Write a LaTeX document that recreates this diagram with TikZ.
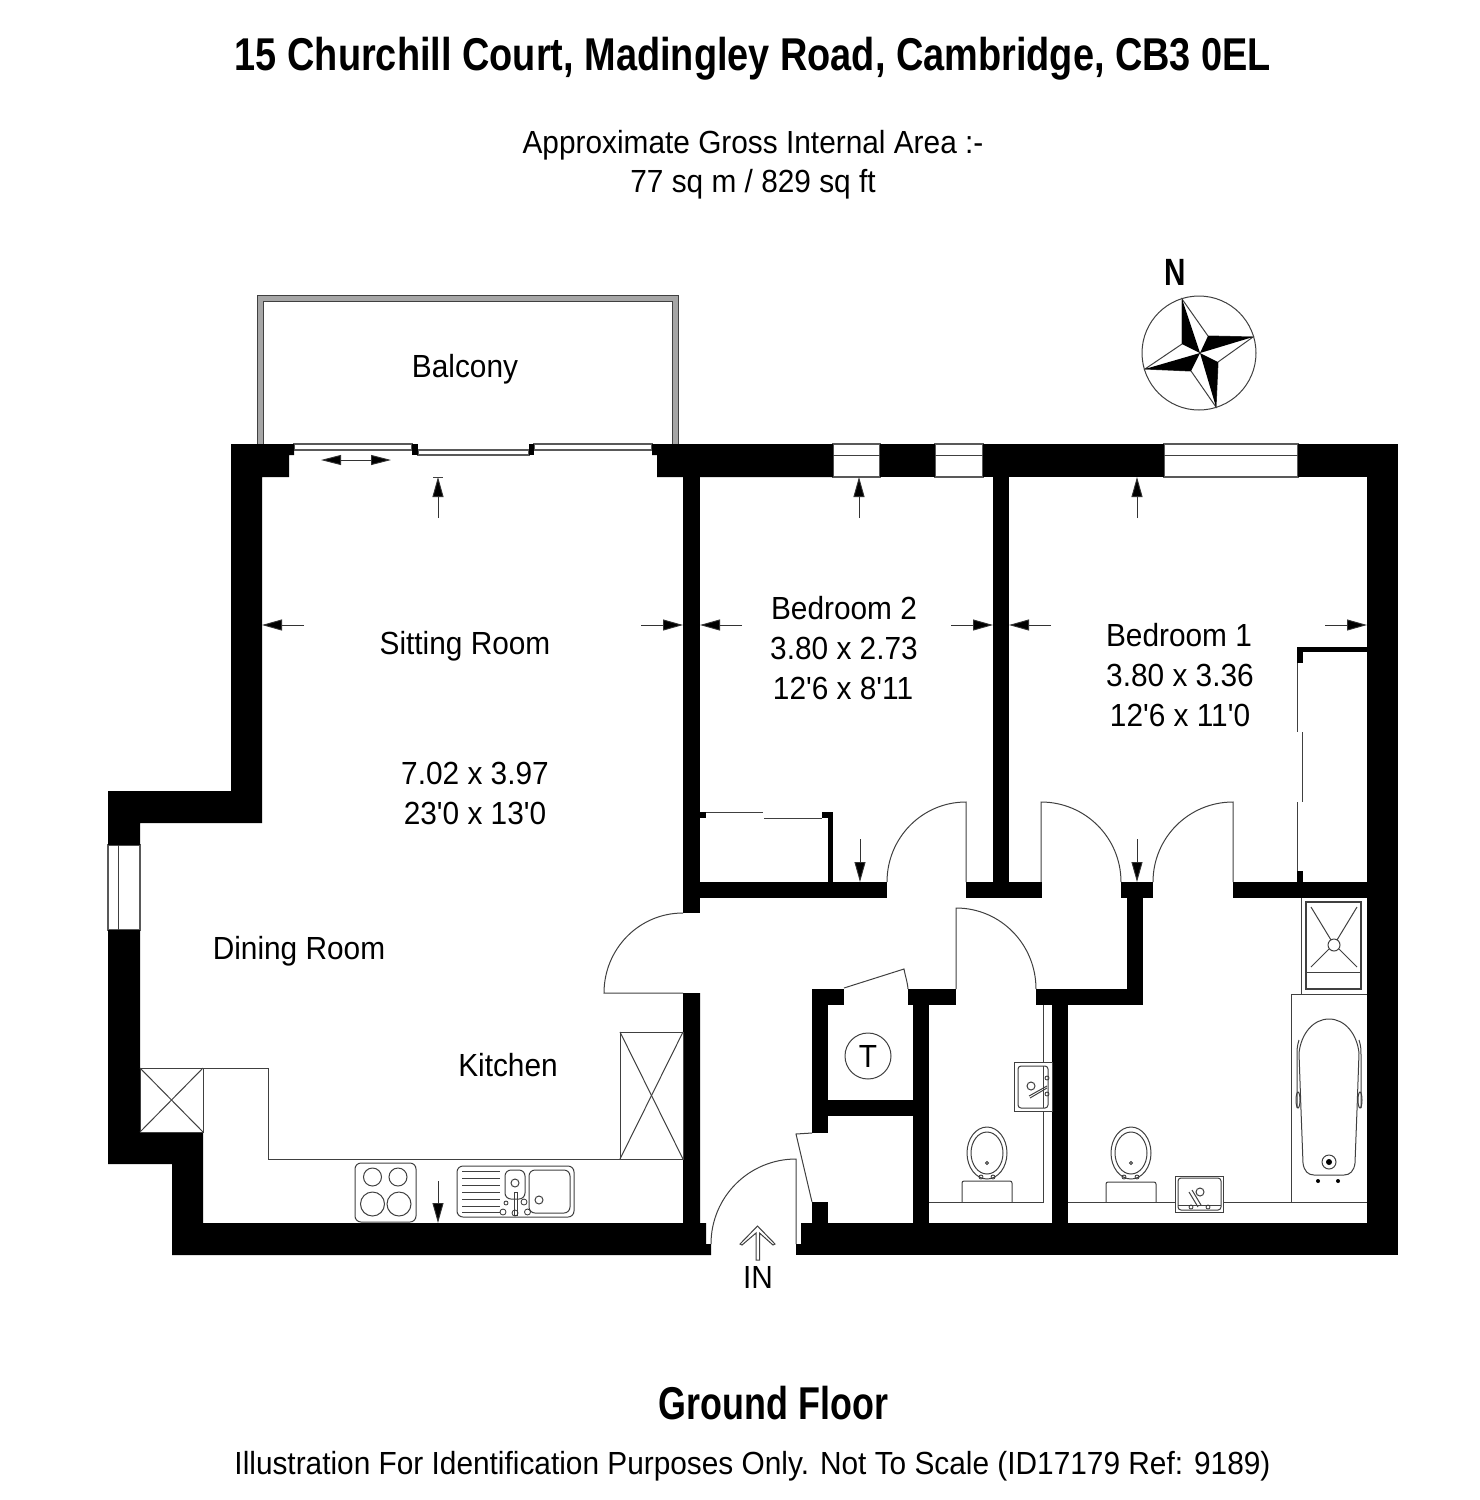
\documentclass[tikz,border=0pt]{standalone}
\usepackage{fontspec}
\setmainfont{Liberation Sans}
\newfontfamily\planfont[FakeStretch=0.932]{Liberation Sans}
\newfontfamily\titlefont[FakeStretch=0.824]{Liberation Sans Bold}
\newfontfamily\floorfont[FakeStretch=0.78]{Liberation Sans Bold}
\usetikzlibrary{arrows.meta}

\begin{document}
\begin{tikzpicture}[x=0.5pt, y=-0.5pt,
    wall/.style={fill=black, draw=none},
    fixture/.style={draw=black!75, line width=0.5pt},
    fixturefine/.style={draw=black!80, line width=0.4pt},
    pane/.style={draw=black!65, fill=white, line width=0.6pt},
    dimarrow/.style={draw=black!80, line width=0.45pt, -{Triangle[length=10pt, width=5.5pt, fill=black]}},
    slidearrow/.style={draw=black!80, line width=0.45pt, {Triangle[length=10pt, width=5pt, fill=black]}-{Triangle[length=10pt, width=5pt, fill=black]}},
    planlabel/.style={font=\planfont\fontsize{16}{19}\selectfont, anchor=base, inner sep=0pt}]

    \useasboundingbox (0,0) rectangle (1479,1500);

    % Balcony
    \draw[fill=black!35, draw=black!75, line width=0.5pt] (257,444) -- (257,295) -- (678,295) -- (678,444) -- (672,444) -- (672,301) -- (263,301) -- (263,444) -- cycle;

    % Windows and glazed doors
    \draw[pane] (294,444) rectangle (412,450);
    \draw[pane] (418,450) rectangle (529,455);
    \draw[pane] (534,444) rectangle (652,450);
    \draw[pane] (833,444) rectangle (880,477);
    \draw[pane] (935,444) rectangle (983,477);
    \draw[pane] (1164,444) rectangle (1298,477);
    \draw[pane] (108,845) rectangle (140,930);
    \draw[fixture] (833,455) -- (880,455);
    \draw[fixture] (935,455) -- (983,455);
    \draw[fixture] (1164,455) -- (1298,455);
    \draw[fixture] (118,845) -- (118,930);

    % Walls
    \fill[wall] (231,444) -- (294,444) -- (294,455) -- (289,455) -- (289,477) -- (262,477) -- (262,823) -- (140,823) -- (140,845) -- (108,845) -- (108,791) -- (231,791) -- cycle;
    \fill[wall] (108,930) -- (140,930) -- (140,1132) -- (203,1132) -- (203,1223) -- (683,1223) -- (683,993) -- (700,993) -- (700,1223) -- (706,1223) -- (706,1244) -- (711,1244) -- (711,1255) -- (172,1255) -- (172,1164) -- (108,1164) -- cycle;
    \fill[wall] (652,444) -- (833,444) -- (833,477) -- (657,477) -- (657,455) -- (652,455) -- cycle;
    \fill[wall] (880,444) rectangle (935,477);
    \fill[wall] (983,444) rectangle (1164,477);
    \fill[wall] (1298,444) rectangle (1398,477);
    \fill[wall] (1367,477) rectangle (1398,1255);
    \fill[wall] (796,1244) rectangle (801,1255);
    \fill[wall] (801,1223) rectangle (1398,1255);
    \fill[wall] (683,477) rectangle (700,913);
    \fill[wall] (700,882) rectangle (887,898);
    \fill[wall] (966,882) rectangle (1042,898);
    \fill[wall] (993,477) rectangle (1009,882);
    \fill[wall] (1121,882) rectangle (1153,898);
    \fill[wall] (1233,882) rectangle (1367,898);
    \fill[wall] (1127,898) rectangle (1143,1005);
    \fill[wall] (1036,989) rectangle (1143,1005);
    \fill[wall] (1052,1005) rectangle (1068,1223);
    \fill[wall] (812,989) rectangle (844,1005);
    \fill[wall] (908,989) rectangle (956,1005);
    \fill[wall] (812,1005) rectangle (828,1133);
    \fill[wall] (828,1100) rectangle (913,1116);
    \fill[wall] (913,1005) rectangle (929,1223);
    \fill[wall] (812,1202) rectangle (828,1223);
    \fill[wall] (828,812) rectangle (833,882);
    \fill[wall] (822,812) rectangle (833,818);
    \fill[wall] (700,812) rectangle (706,818);
    \fill[wall] (1297,647) rectangle (1367,652);
    \fill[wall] (1297,647) rectangle (1303,663);
    \fill[wall] (1297,871) rectangle (1303,882);
    \fill[wall] (412,444) rectangle (418,455);
    \fill[wall] (529,444) rectangle (534,455);

    % Doors
    \draw[fixture] (887,882) to[out=90, in=180] (966,802) -- (966,882);
    \draw[fixture] (1121,882) to[out=90, in=0] (1041,802) -- (1041,882);
    \draw[fixture] (1153,882) to[out=90, in=180] (1233,802) -- (1233,882);
    \draw[fixture] (1036,989) to[out=90, in=0] (956,908) -- (956,989);
    \draw[fixture] (683,913) to[out=180, in=90] (604,993) -- (683,993);
    \draw[fixture] (711,1244) to[out=90, in=180] (796,1159) -- (796,1244);
    \draw[fixture] (844,988) -- (904,969) to[out=-80, in=95] (908,989);
    \draw[fixture] (812,1133) -- (796,1134) -- (812,1202);

    % Sliding doors of the cupboards
    \draw[fixture] (706,812) -- (763,812);
    \draw[fixture] (764,818) -- (822,818);
    \draw[fixture] (1297.5,663) -- (1297.5,732);
    \draw[fixture] (1302.5,732) -- (1302.5,802);
    \draw[fixture] (1297.5,802) -- (1297.5,871);

    % Kitchen
    \draw[fixture] (203,1068) -- (268,1068) -- (268,1159) -- (683,1159);
    \draw[fixture] (140,1068) rectangle (203,1132);
    \draw[fixture] (140,1068) -- (203,1132);
    \draw[fixture] (203,1068) -- (140,1132);
    \draw[fixture] (620,1032) rectangle (683,1159);
    \draw[fixture] (620,1032) -- (683,1159);
    \draw[fixture] (683,1032) -- (620,1159);

    % Hob
    \draw[fixture, rounded corners=3pt] (355,1163) rectangle (416,1222);
    \draw[fixture] (372.5,1177) circle (9);
    \draw[fixture] (398,1177) circle (9);
    \draw[fixture] (372.5,1204) circle (12);
    \draw[fixture] (399,1204) circle (12);

    % Sink
    \draw[fixture, rounded corners=3pt] (457,1166) rectangle (574,1217);
    \draw[fixture, rounded corners=3pt] (505,1170) rectangle (525,1199);
    \draw[fixture, rounded corners=3pt] (529,1170) rectangle (570,1213);
    \draw[fixture] (462,1171) -- (500,1171);
    \draw[fixture] (462,1178) -- (500,1178);
    \draw[fixture] (462,1185) -- (500,1185);
    \draw[fixture] (462,1192) -- (500,1192);
    \draw[fixture] (462,1199) -- (500,1199);
    \draw[fixture] (462,1206) -- (500,1206);
    \draw[fixture] (462,1212) -- (500,1212);
    \draw[fixture] (515,1183) circle (4);
    \draw[fixture] (539,1200) circle (4);
    \draw[fixture] (514,1192) rectangle (517,1215);
    \draw[fixturefine] (506,1203) circle (2);
    \draw[fixturefine] (524,1202) circle (3);
    \draw[fixturefine] (503,1212) circle (3);
    \draw[fixturefine] (515,1213) circle (3);
    \draw[fixturefine] (527.5,1212) circle (3);

    % Cloakroom
    \draw[fixture] (929,1202) -- (1043,1202) -- (1043,1005);
    \draw[fixture, rounded corners=1pt] (962,1202) -- (962,1181) -- (1012,1181) -- (1012,1202);
    \draw[fixture] (987,1153) ellipse (20 and 26);
    \draw[fixture] (987,1153) ellipse (16 and 21);
    \draw[fixturefine] (981,1177) circle (2);
    \draw[fixturefine] (993,1177) circle (2);
    \draw[fixturefine] (987,1163) circle (1.5);
    \draw[fixture, fill=white] (1014,1062) rectangle (1052,1111);
    \draw[fixture, rounded corners=1.5pt] (1018,1066) rectangle (1048,1108);
    \draw[fixture] (1043,1066) -- (1043,1108);
    \draw[fixture] (1031,1086) circle (4);
    \draw[fixture] (1029,1096) -- (1047,1086);
    \draw[fixture] (1030,1098) -- (1047,1088);
    \draw[fixturefine] (1047,1078) circle (2);
    \draw[fixturefine] (1047,1094) circle (2);

    % Bathroom
    \draw[fixture] (1068,1202) -- (1367,1202);
    \draw[fixture, rounded corners=1pt] (1106,1202) -- (1106,1182) -- (1156,1182) -- (1156,1202);
    \draw[fixture] (1131,1153) ellipse (20 and 26);
    \draw[fixture] (1131,1153) ellipse (16 and 21);
    \draw[fixturefine] (1124,1177) circle (2);
    \draw[fixturefine] (1137,1177) circle (2);
    \draw[fixturefine] (1131,1163) circle (1.5);
    \draw[fixture, fill=white] (1175,1176) rectangle (1223,1212);
    \draw[fixture, rounded corners=1.5pt] (1178,1178) rectangle (1221,1210);
    \draw[fixture] (1178,1205) -- (1221,1205);
    \draw[fixture] (1200,1192) circle (4);
    \draw[fixture] (1189,1192) -- (1198,1207);
    \draw[fixture] (1192,1190) -- (1201,1205);
    \draw[fixturefine] (1191,1207) circle (2);
    \draw[fixturefine] (1208,1207) circle (2);

    % Bath
    \draw[fixture] (1367,994) -- (1291,994) -- (1291,1202);
    \draw[fixture] (1299,1053) -- (1301,1110) -- (1303,1163) .. controls (1304,1171) and (1308,1175) .. (1314,1175) -- (1344,1175) .. controls (1350,1175) and (1354,1171) .. (1355,1163) -- (1357,1110) -- (1359,1053) .. controls (1357,1034) and (1345,1019) .. (1329,1019) .. controls (1313,1019) and (1301,1034) .. (1299,1053) -- cycle;
    \draw[fixture] (1299,1040) .. controls (1297,1046) and (1297,1050) .. (1297,1056) -- (1297,1108);
    \draw[fixture] (1359,1040) .. controls (1361,1046) and (1361,1050) .. (1361,1056) -- (1361,1108);
    \draw[fixture] (1298,1100) ellipse (2 and 8);
    \draw[fixture] (1360,1100) ellipse (2 and 8);
    \draw[fixture] (1329,1162) circle (7);
    \fill[black] (1329,1162) circle (3);
    \fill[black] (1318,1181) circle (2);
    \fill[black] (1338,1181) circle (2);

    % Shower
    \draw[fixture] (1301,898) -- (1301,994);
    \draw[fixture, line width=0.7pt] (1306,902) rectangle (1361,989);
    \draw[fixture] (1306,972) -- (1361,972);
    \draw[fixture] (1334,945) circle (6);
    \draw[fixture] (1311,907) -- (1331,940);
    \draw[fixture] (1357,907) -- (1337,940);
    \draw[fixture] (1311,967) -- (1329,949);
    \draw[fixture] (1357,967) -- (1339,949);

    % Dimension arrows
    \draw[slidearrow] (321,460) -- (391,460);
    \draw[dimarrow] (438,518) -- (438,477);
    \draw[fixture] (433,477) -- (443,477);
    \draw[dimarrow] (304,625) -- (262,625);
    \draw[dimarrow] (641,625) -- (683,625);
    \draw[dimarrow] (742,625) -- (700,625);
    \draw[dimarrow] (951,625) -- (993,625);
    \draw[dimarrow] (1051,625) -- (1009,625);
    \draw[dimarrow] (1325,625) -- (1367,625);
    \draw[dimarrow] (859,518) -- (859,477);
    \draw[dimarrow] (1137,518) -- (1137,477);
    \draw[dimarrow] (860,839) -- (860,882);
    \draw[dimarrow] (1137,839) -- (1137,882);
    \draw[dimarrow] (438,1181) -- (438,1223);

    % Entrance arrow
    \draw[fixture] (757.5,1226) -- (775,1244) -- (773,1245) -- (759.5,1233) -- (759.5,1260) -- (756,1260) -- (756,1233) -- (742,1245) -- (740,1244) -- cycle;

    % North point
    \draw[fixture] (1199,353) circle (57);
    \draw[fixture] (1182,299) -- (1208,336) -- (1253,337) -- (1218,362) -- (1216,407) -- (1191,371) -- (1145,369) -- (1182,344) -- cycle;
    \fill[black] (1182,299) -- (1182,344) -- (1200,353) -- cycle;
    \fill[black] (1253,337) -- (1208,336) -- (1200,353) -- cycle;
    \fill[black] (1216,407) -- (1218,362) -- (1200,353) -- cycle;
    \fill[black] (1145,369) -- (1191,371) -- (1200,353) -- cycle;
    \node[font=\floorfont\fontsize{19}{22}\selectfont, anchor=base, inner sep=0pt] (north) at (1175,285) {N};

    % Tank symbol
    \node[draw=black!75, line width=0.5pt, circle, minimum size=23pt, inner sep=0pt] (tank) at (868,1056) {};
    \node[planlabel] (tanklabel) at (868,1067) {T};

    % Room labels
    \node[planlabel] (balcony) at (465,377) {Balcony};
    \node[planlabel] (sitting) at (465,654) {Sitting Room};
    \node[planlabel] (sittingm) at (475,784) {7.02 x 3.97};
    \node[planlabel] (sittingft) at (475,824) {23'0 x 13'0};
    \node[planlabel] (dining) at (299,959) {Dining Room};
    \node[planlabel] (kitchen) at (508,1076) {Kitchen};
    \node[planlabel] (bedtwo) at (844,619) {Bedroom 2};
    \node[planlabel] (bedtwom) at (844,659) {3.80 x 2.73};
    \node[planlabel] (bedtwoft) at (843,699) {12'6 x 8'11};
    \node[planlabel] (bedone) at (1179,646) {Bedroom 1};
    \node[planlabel] (bedonem) at (1180,686) {3.80 x 3.36};
    \node[planlabel] (bedoneft) at (1180,726) {12'6 x 11'0};
    \node[planlabel] (entrance) at (758,1288) {IN};

    % Headings
    \node[font=\titlefont\fontsize{23}{27}\selectfont, anchor=base, inner sep=0pt] (heading) at (753,70) {15 Churchill Court, Madingley Road, Cambridge, CB3 0EL};
    \node[planlabel] (area) at (753,153) {Approximate Gross Internal Area :-};
    \node[planlabel] (areavalue) at (753,192) {77 sq m / 829 sq ft};
    \node[font=\floorfont\fontsize{23}{27}\selectfont, anchor=base, inner sep=0pt] (floor) at (773.5,1419) {Ground Floor};
    \node[planlabel] (disclaimer) at (752.5,1474) {Illustration For Identification Purposes Only. Not To Scale (ID17179 Ref: 9189)};
\end{tikzpicture}
\end{document}
